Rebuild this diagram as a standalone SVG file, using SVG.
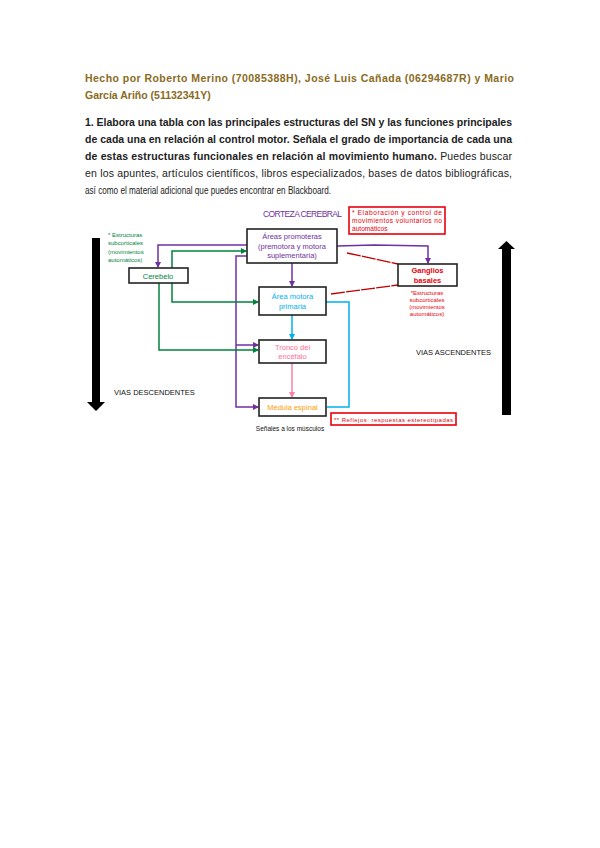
<svg xmlns="http://www.w3.org/2000/svg" width="600" height="848" viewBox="0 0 600 848">
<defs>
<style>
.t{font-family:"Liberation Sans","Open Sans",sans-serif}
.hd{font-size:10.5px;font-weight:bold;fill:#8a6a1c}
.p{font-size:10.5px;fill:#222}
.pb{font-weight:bold}
.box{fill:#fff;stroke:#222;stroke-width:1.6}
.rbox{fill:#fff;stroke:#e8000b;stroke-width:1.6}
.sm{font-size:7.5px;text-anchor:middle}
.xs{font-size:6px}
.c{fill:none;stroke-width:1.5}
</style>
<marker id="ap" markerWidth="6" markerHeight="6" refX="5" refY="3" orient="auto" markerUnits="userSpaceOnUse"><path d="M0,0L6,3L0,6z" fill="#7030a0"/></marker>
<marker id="ag" markerWidth="6" markerHeight="6" refX="5" refY="3" orient="auto" markerUnits="userSpaceOnUse"><path d="M0,0L6,3L0,6z" fill="#00843d"/></marker>
<marker id="ac" markerWidth="6" markerHeight="6" refX="5" refY="3" orient="auto" markerUnits="userSpaceOnUse"><path d="M0,0L6,3L0,6z" fill="#00b0f0"/></marker>
<marker id="ak" markerWidth="6" markerHeight="6" refX="5" refY="3" orient="auto" markerUnits="userSpaceOnUse"><path d="M0,0L6,3L0,6z" fill="#ff7fa0"/></marker>
</defs>
<rect width="600" height="848" fill="#fff"/>

<g id="header">
<text class="t hd" x="85" y="82" textLength="429" lengthAdjust="spacing">Hecho por Roberto Merino (70085388H), José Luis Cañada (06294687R) y Mario</text>
<text class="t hd" x="85" y="99">García Ariño (51132341Y)</text>
</g>

<g id="paragraph">
<text class="t p pb" x="85" y="126" textLength="427" lengthAdjust="spacing">1. Elabora una tabla con las principales estructuras del SN y las funciones principales</text>
<text class="t p pb" x="85" y="143" textLength="427" lengthAdjust="spacing">de cada una en relación al control motor. Señala el grado de importancia de cada una</text>
<text class="t p" x="85" y="160" textLength="427" lengthAdjust="spacing"><tspan class="pb">de estas estructuras funcionales en relación al movimiento humano.</tspan> Puedes buscar</text>
<text class="t p" x="85" y="177" textLength="427" lengthAdjust="spacing">en los apuntes, artículos científicos, libros especializados, bases de datos bibliográficas,</text>
<text class="t p" x="85" y="194" textLength="246" lengthAdjust="spacingAndGlyphs">así como el material adicional que puedes encontrar en Blackboard.</text>
</g>

<g id="arrows-big">
<path d="M92,238H100V402H105L96,411L87,402H92Z" fill="#000"/>
<path d="M502,415H511V249H515L506.5,241L498,249H502Z" fill="#000"/>
<text class="t" x="114" y="395" font-size="7.5" fill="#111">VIAS DESCENDENTES</text>
<text class="t" x="416" y="355" font-size="7.5" fill="#111">VIAS ASCENDENTES</text>
</g>

<g id="connectors">
<polyline class="c" stroke="#7030a0" points="247,245 158,245 158,267" marker-end="url(#ap)"/>
<polyline class="c" stroke="#7030a0" points="247,256 236,256 236,407 258,407" marker-end="url(#ap)"/>
<polyline class="c" stroke="#7030a0" points="236,345 258,345" marker-end="url(#ap)"/>
<polyline class="c" stroke="#7030a0" points="292,263 292,286" marker-end="url(#ap)"/>
<polyline class="c" stroke="#7030a0" points="337,246 374,245 428,246 428,263" marker-end="url(#ap)"/>
<polyline class="c" stroke="#00843d" points="172,268 172,251 246,251" marker-end="url(#ag)"/>
<polyline class="c" stroke="#00843d" points="172,283 172,302 258,302" marker-end="url(#ag)"/>
<polyline class="c" stroke="#00843d" points="159,283 159,350 258,350" marker-end="url(#ag)"/>
<polyline class="c" stroke="#00b0f0" points="292,315 292,339" marker-end="url(#ac)"/>
<polyline class="c" stroke="#00b0f0" points="326,302 349,302 349,407 327,407"/>
<polyline class="c" stroke="#ff7fa0" points="292,363 292,397" marker-end="url(#ak)"/>
<line x1="347" y1="253" x2="398" y2="264" stroke="#c00000" stroke-width="1.3" stroke-dasharray="14,1.2"/>
<line x1="331" y1="294" x2="398" y2="285" stroke="#c00000" stroke-width="1.3" stroke-dasharray="14,1.2"/>
</g>

<g id="corteza-label">
<text class="t" x="263" y="217" font-size="8.5" fill="#7030a0" textLength="79" lengthAdjust="spacing">CORTEZA CEREBRAL</text>
</g>

<g id="nota-corteza">
<rect class="rbox" x="349" y="207" width="96" height="27"/>
<text class="t" font-size="6.6" x="352" y="215" fill="#e8000b" textLength="90" lengthAdjust="spacing">* Elaboración y control de</text>
<text class="t" font-size="6.6" x="352" y="223" fill="#e8000b" textLength="90" lengthAdjust="spacing">movimientos voluntarios no</text>
<text class="t" font-size="6.6" x="352" y="231" fill="#e8000b">automáticos</text>
</g>

<g id="nota-cerebelo">
<text class="t xs" x="108" y="237" fill="#00843d">* Estructuras</text>
<text class="t xs" x="108" y="245" fill="#00843d">subcorticales</text>
<text class="t xs" x="108" y="254" fill="#00843d">(movimientos</text>
<text class="t xs" x="108" y="262" fill="#00843d">automáticos)</text>
</g>

<g id="areas-promoteras">
<rect class="box" x="247" y="229" width="90" height="34"/>
<text class="t sm" x="292" y="239" fill="#7030a0">Áreas promoteras</text>
<text class="t sm" x="292" y="249" fill="#7030a0">(premotora y motora</text>
<text class="t sm" x="292" y="258" fill="#7030a0">suplementaria)</text>
</g>

<g id="cerebelo">
<rect class="box" x="129" y="268" width="59" height="15"/>
<text class="t sm" x="158" y="278.5" fill="#00843d">Cerebelo</text>
</g>

<g id="ganglios-basales">
<rect class="box" x="398" y="264" width="59" height="22"/>
<text class="t sm" x="427.5" y="273" fill="#e8000b" font-weight="bold">Ganglios</text>
<text class="t sm" x="427.5" y="283" fill="#e8000b" font-weight="bold">basales</text>
<text class="t xs" x="427" y="295" text-anchor="middle" fill="#e8000b">*Estructuras</text>
<text class="t xs" x="427" y="302" text-anchor="middle" fill="#e8000b">subcorticales</text>
<text class="t xs" x="427" y="309" text-anchor="middle" fill="#e8000b">(movimientos</text>
<text class="t xs" x="427" y="316" text-anchor="middle" fill="#e8000b">automáticos)</text>
</g>

<g id="area-motora-primaria">
<rect class="box" x="259" y="287" width="67" height="28"/>
<text class="t sm" x="292.5" y="299" fill="#00b0f0">Área motora</text>
<text class="t sm" x="292.5" y="309" fill="#00b0f0">primaria</text>
</g>

<g id="tronco-encefalo">
<rect class="box" x="259" y="340" width="67" height="23"/>
<text class="t sm" x="292.5" y="349.5" fill="#ff6f96">Tronco del</text>
<text class="t sm" x="292.5" y="359" fill="#ff6f96">encéfalo</text>
</g>

<g id="medula-espinal">
<rect class="box" x="259" y="398" width="67" height="18"/>
<text class="t sm" x="292.5" y="410" fill="#ffa000">Médula espinal</text>
<text class="t" x="290" y="431" font-size="6.5" text-anchor="middle" fill="#111">Señales a los músculos</text>
</g>

<g id="nota-reflejos">
<rect class="rbox" x="331" y="413" width="125" height="12"/>
<text class="t xs" x="334" y="421.5" fill="#e8000b" textLength="119" lengthAdjust="spacing">** Reflejos: respuestas estereotipadas</text>
</g>
</svg>
